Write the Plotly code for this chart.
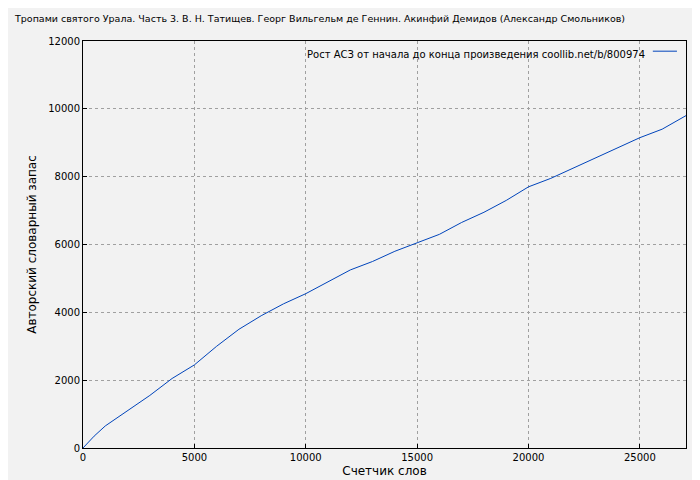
import plotly.graph_objects as go

words = [0, 500, 1000, 2000, 3000, 4000, 5000, 6000, 7000, 8000, 9000, 10000, 11000, 12000, 13000,
         14000, 15000, 16000, 17000, 18000, 19000, 20000, 21000, 22000, 23000, 24000, 25000, 26000, 27070]
vocab = [0, 350, 650, 1100, 1550, 2050, 2450, 3000, 3500, 3900, 4250, 4550, 4900, 5250, 5500,
         5800, 6050, 6300, 6650, 6950, 7300, 7700, 7950, 8250, 8550, 8850, 9150, 9400, 9800]
xticks = [0, 5000, 10000, 15000, 20000, 25000]
yticks = list(range(0, 12001, 2000))

title = "Тропами святого Урала. Часть 3. В. Н. Татищев. Георг Вильгельм де Геннин. Акинфий Демидов (Александр Смольников)"
legend_name = "Рост АСЗ от начала до конца произведения coollib.net/b/800974"

fig = go.Figure(go.Scatter(x=words, y=vocab, mode="lines", name=legend_name, showlegend=False,
                           line=dict(color="#0044bb", width=1)))
grid = dict(showgrid=True, gridcolor="#a0a0a0", griddash="dot", gridwidth=1,
            zeroline=False, showline=True, linecolor="black", mirror=True,
            ticks="inside", ticklen=4, tickcolor="black")
fig.update_layout(
    width=700, height=480,
    margin=dict(l=75, r=22, t=33, b=40),
    paper_bgcolor="#f2f2f2", plot_bgcolor="#f2f2f2",
    font=dict(family="DejaVu Sans", size=10, color="black"),
    title=dict(text=title, x=0.01, xanchor="left", y=0.985, yanchor="top", font=dict(size=9.5)),
    xaxis=dict(range=[0, 27070], tickvals=xticks, ticktext=[str(v) for v in xticks],
               title=dict(text="Счетчик слов", standoff=4), **grid),
    yaxis=dict(range=[0, 12000], tickvals=yticks, ticktext=[str(v) for v in yticks],
               title=dict(text="Авторский словарный запас", standoff=8), **grid),
    annotations=[dict(text=legend_name, xref="paper", yref="paper", x=0.935, y=0.985,
                      xanchor="right", yanchor="top", showarrow=False)],
    shapes=[dict(type="line", xref="paper", yref="paper", x0=0.945, x1=0.985, y0=0.975, y1=0.975,
                 line=dict(color="#0044bb", width=1))],
)
fig.write_html("out.html")
